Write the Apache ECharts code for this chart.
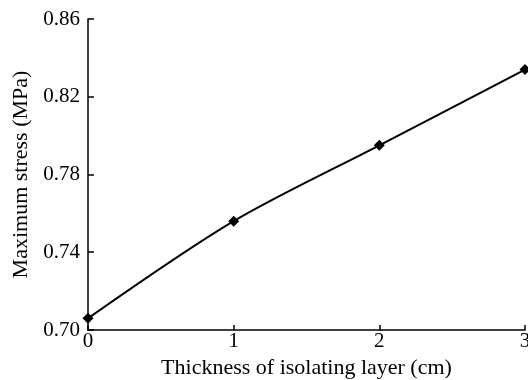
<!DOCTYPE html>
<html>
<head>
<meta charset="utf-8">
<script src="https://cdn.jsdelivr.net/npm/echarts@6/dist/echarts.min.js"></script>
<style>
  html, body { margin: 0; padding: 0; background: #fff; }
  #chart { width: 528px; height: 380px; }
</style>
</head>
<body>
<div id="chart"></div>
<script>
// thickness of isolating layer (cm) vs maximum stress (MPa)
var thickness = [0, 1, 2, 3];
var maxStress = [0.706, 0.756, 0.795, 0.834];

var font = '"Liberation Serif", "Times New Roman", serif';

var chart = echarts.init(document.getElementById('chart'));
chart.setOption({
  animation: false,
  grid: { left: 88, right: 3, top: 19, bottom: 50, outerBoundsMode: 'none', containLabel: false },
  xAxis: {
    type: 'value',
    min: 0,
    max: 3,
    interval: 1,
    name: 'Thickness of isolating layer (cm)',
    nameLocation: 'middle',
    nameGap: 23,
    nameTextStyle: { color: '#000', fontFamily: font, fontSize: 22 },
    axisLine: { lineStyle: { color: '#000', width: 1.5 } },
    axisTick: { inside: true, length: 5, lineStyle: { color: '#000', width: 1.5 } },
    axisLabel: { color: '#000', fontFamily: font, fontSize: 21, margin: 1 },
    splitLine: { show: false }
  },
  yAxis: {
    type: 'value',
    min: 0.70,
    max: 0.86,
    interval: 0.04,
    name: 'Maximum stress (MPa)',
    nameLocation: 'middle',
    nameGap: 55,
    nameTextStyle: { color: '#000', fontFamily: font, fontSize: 22 },
    axisLine: { show: true, lineStyle: { color: '#000', width: 1.5 } },
    axisTick: { show: true, inside: true, length: 6, lineStyle: { color: '#000', width: 1.5 } },
    axisLabel: {
      color: '#000', fontFamily: font, fontSize: 21, margin: 8,
      formatter: function (v) { return v.toFixed(2); }
    },
    splitLine: { show: false }
  },
  series: [
    {
      type: 'line',
      data: thickness.map(function (t, i) { return [t, maxStress[i]]; }),
      smooth: 0.3,
      symbol: 'diamond',
      symbolSize: 11,
      clip: false,
      lineStyle: { color: '#000', width: 2 },
      itemStyle: { color: '#000' }
    }
  ]
});
</script>
</body>
</html>
